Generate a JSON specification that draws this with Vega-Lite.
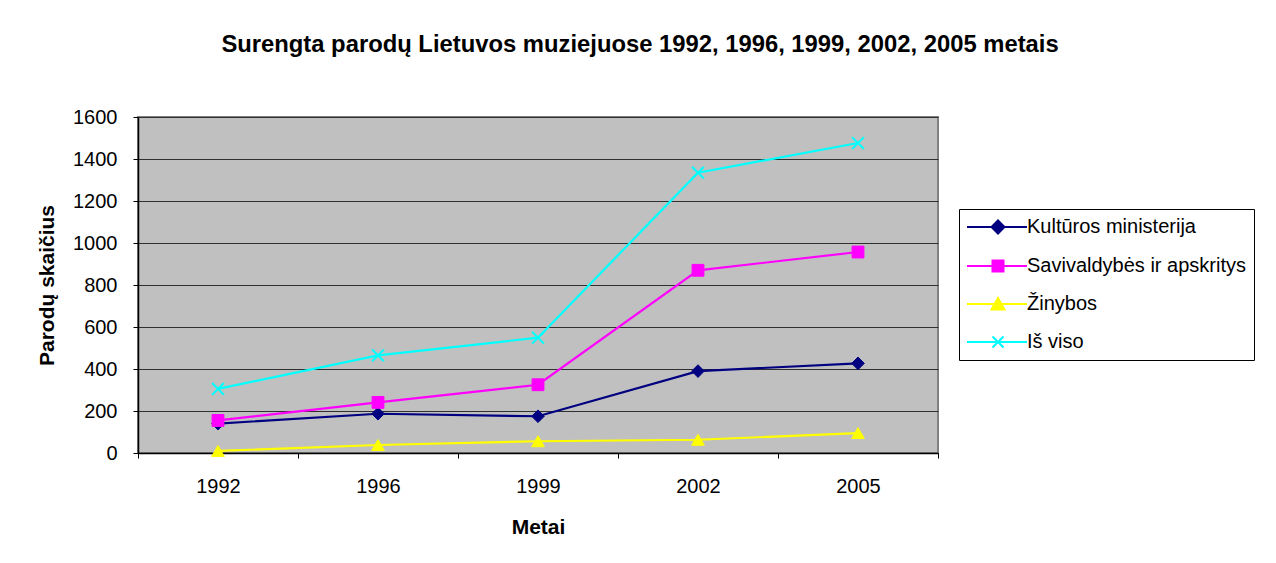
{
  "$schema": "https://vega.github.io/schema/vega-lite/v6.json",
  "width": 800,
  "height": 336,
  "autosize": "none",
  "padding": {"left": 138, "top": 117, "right": 338, "bottom": 110},
  "background": "white",
  "title": {
    "text": "Surengta parodų Lietuvos muziejuose 1992, 1996, 1999, 2002, 2005 metais",
    "font": "Liberation Sans",
    "fontSize": 23.8,
    "fontWeight": "bold",
    "color": "black",
    "anchor": "middle",
    "dx": 102,
    "offset": 50
  },
  "data": {
    "values": [
      {"year": "1992", "series": "Kultūros ministerija", "value": 140},
      {"year": "1996", "series": "Kultūros ministerija", "value": 187},
      {"year": "1999", "series": "Kultūros ministerija", "value": 175},
      {"year": "2002", "series": "Kultūros ministerija", "value": 390},
      {"year": "2005", "series": "Kultūros ministerija", "value": 427},
      {"year": "1992", "series": "Savivaldybės ir apskritys", "value": 155},
      {"year": "1996", "series": "Savivaldybės ir apskritys", "value": 241},
      {"year": "1999", "series": "Savivaldybės ir apskritys", "value": 325},
      {"year": "2002", "series": "Savivaldybės ir apskritys", "value": 870},
      {"year": "2005", "series": "Savivaldybės ir apskritys", "value": 957},
      {"year": "1992", "series": "Žinybos", "value": 10},
      {"year": "1996", "series": "Žinybos", "value": 38},
      {"year": "1999", "series": "Žinybos", "value": 56},
      {"year": "2002", "series": "Žinybos", "value": 63},
      {"year": "2005", "series": "Žinybos", "value": 95},
      {"year": "1992", "series": "Iš viso", "value": 305},
      {"year": "1996", "series": "Iš viso", "value": 465},
      {"year": "1999", "series": "Iš viso", "value": 549},
      {"year": "2002", "series": "Iš viso", "value": 1335},
      {"year": "2005", "series": "Iš viso", "value": 1476}
    ]
  },
  "encoding": {
    "x": {
      "field": "year",
      "type": "ordinal",
      "bandPosition": 0.5,
      "scale": {"type": "band", "paddingInner": 0, "paddingOuter": 0},
      "axis": {
        "title": "Metai",
        "labelAngle": 0,
        "tickBand": "extent",
        "labelPadding": 18,
        "titlePadding": 20,
        "grid": false
      }
    },
    "y": {
      "field": "value",
      "type": "quantitative",
      "scale": {"domain": [0, 1600], "nice": false},
      "axis": {
        "title": "Parodų skaičius",
        "format": "d",
        "values": [0, 200, 400, 600, 800, 1000, 1200, 1400, 1600],
        "labelPadding": 16,
        "titlePadding": 15,
        "grid": true
      }
    }
  },
  "layer": [
    {
      "mark": {"type": "line", "strokeWidth": 2.2},
      "encoding": {
        "color": {
          "field": "series",
          "type": "nominal",
          "sort": ["Kultūros ministerija", "Savivaldybės ir apskritys", "Žinybos", "Iš viso"],
          "scale": {
            "domain": ["Kultūros ministerija", "Savivaldybės ir apskritys", "Žinybos", "Iš viso"],
            "range": ["#000080", "#FF00FF", "#FFFF00", "#00FFFF"]
          },
          "legend": {
            "title": null,
            "orient": "none",
            "legendX": 821,
            "legendY": 92,
            "labelFont": "Liberation Sans",
            "labelFontSize": 20,
            "labelColor": "black",
            "labelLimit": 400,
            "labelOffset": 40,
            "strokeColor": "black",
            "fillColor": "white",
            "padding": 8,
            "rowPadding": 18,
            "symbolSize": 100,
            "symbolStrokeWidth": 2,
            "encode": {
              "symbols": {
                "update": {
                  "shape": {"signal": "datum.value === 'Kultūros ministerija' ? 'M-2,0H10M4.2,-1.3L5.5,0L4.2,1.3L2.9,0Z' : datum.value === 'Savivaldybės ir apskritys' ? 'M-2,0H10M3.1,-1.1H5.3V1.1H3.1Z' : datum.value === 'Žinybos' ? 'M-2,0H10M4.2,-1.2L5.5,1.1H2.9Z' : 'M-2,0H10M3.1,-1.1L5.3,1.1M3.1,1.1L5.3,-1.1'"},
                  "fill": {"signal": "scale('color', datum.value)"},
                  "stroke": {"signal": "scale('color', datum.value)"},
                  "strokeWidth": {"value": 2},
                  "opacity": {"value": 1}
                }
              }
            }
          }
        }
      }
    },
    {
      "transform": [{"filter": "datum.series === 'Kultūros ministerija'"}],
      "mark": {"type": "point", "shape": "diamond", "filled": true, "opacity": 1, "fill": "#000080", "stroke": "#000080", "strokeWidth": 1, "size": 160}
    },
    {
      "transform": [{"filter": "datum.series === 'Savivaldybės ir apskritys'"}],
      "mark": {"type": "point", "shape": "square", "filled": true, "opacity": 1, "fill": "#FF00FF", "stroke": "#FF00FF", "strokeWidth": 1, "size": 140}
    },
    {
      "transform": [{"filter": "datum.series === 'Žinybos'"}],
      "mark": {"type": "point", "shape": "triangle-up", "filled": true, "opacity": 1, "fill": "#FFFF00", "stroke": "#FFFF00", "strokeWidth": 1, "size": 160}
    },
    {
      "transform": [{"filter": "datum.series === 'Iš viso'"}],
      "mark": {"type": "point", "shape": "M-1,-1L1,1M-1,1L1,-1", "filled": false, "opacity": 1, "stroke": "#00FFFF", "strokeWidth": 2, "size": 140}
    }
  ],
  "config": {
    "view": {"fill": "#C0C0C0", "stroke": "#808080", "strokeWidth": 2},
    "axis": {
      "labelFont": "Liberation Sans",
      "labelFontSize": 20,
      "labelColor": "black",
      "titleFont": "Liberation Sans",
      "titleFontSize": 21,
      "titleFontWeight": "bold",
      "titleColor": "black",
      "domainColor": "black",
      "domainWidth": 1.5,
      "tickColor": "black",
      "tickSize": 5,
      "gridColor": "#303030",
      "gridWidth": 1
    }
  }
}
